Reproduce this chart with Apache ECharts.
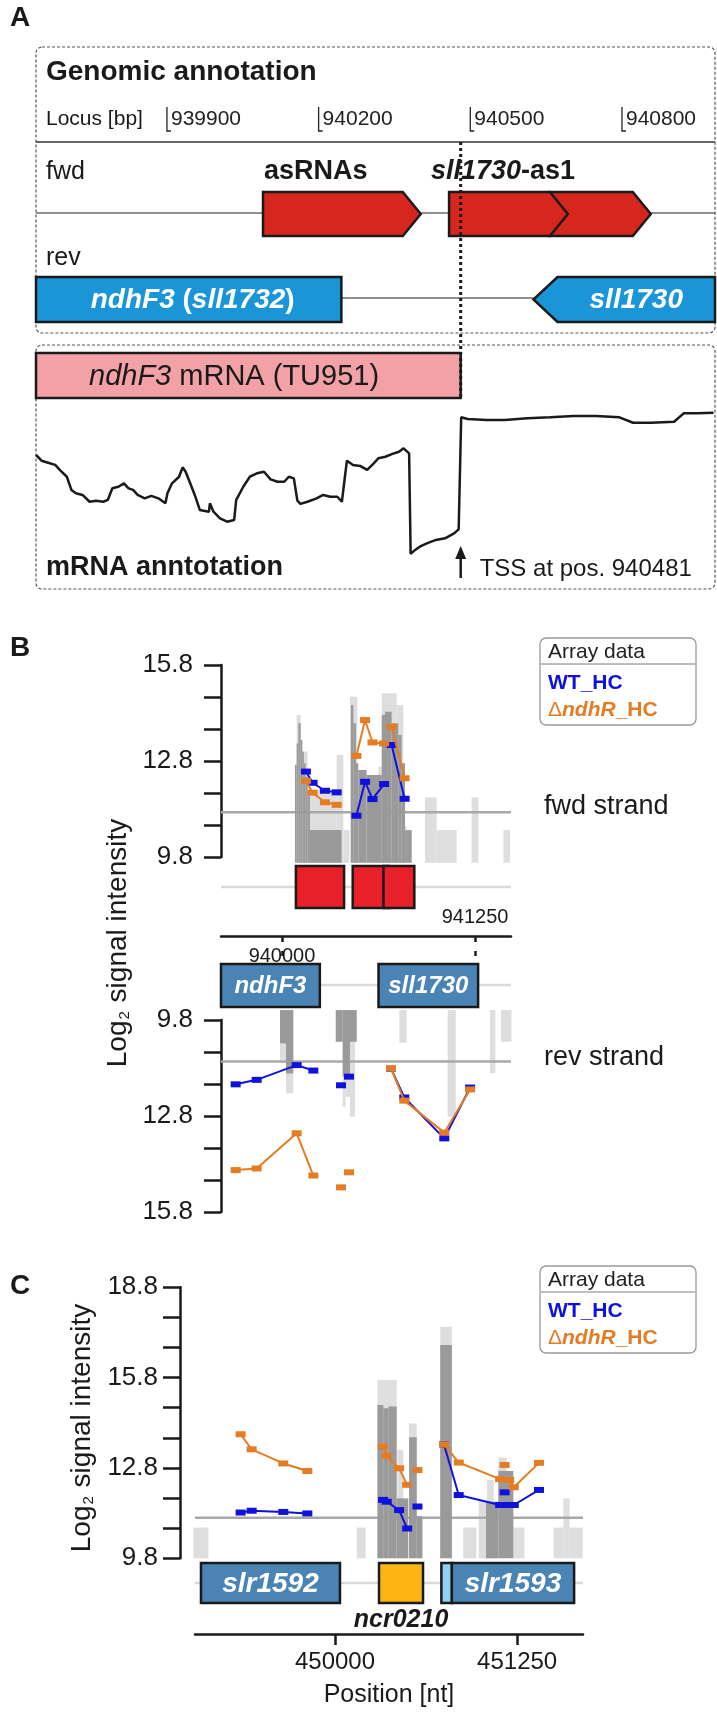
<!DOCTYPE html>
<html>
<head>
<meta charset="utf-8">
<script src="https://cdn.jsdelivr.net/npm/echarts@6/dist/echarts.min.js"></script>
<style>
  html, body { margin: 0; padding: 0; background: #fff; }
  #main { width: 717px; height: 1714px; }
</style>
</head>
<body>
<div id="main"></div>
<script>
// ---------- panel A : genomic annotation ----------
var locusTicks = [939900, 940200, 940500, 940800];
var asRnas = [[940090, 940402], [940458, 940693], [940657, 940857]];   // fwd: asRNAs, sll1730-as1 (2 parts)
var revGenes = [[939000, 940245], [940625, 941270]];                   // rev: ndhF3 (sll1732), sll1730
var tssPos = 940481;
var tu951 = [939000, 940481];                                         // ndhF3 mRNA
var mrnaPos = [939641, 939652, 939665, 939679, 939688, 939702, 939711, 939720, 939733, 939747,
  939760, 939774, 939783, 939792, 939804, 939815, 939824, 939833, 939842, 939856,
  939869, 939883, 939897, 939901, 939910, 939924, 939931, 939937, 939946, 939955,
  939965, 939983, 939985, 939992, 940005, 940019, 940033, 940037, 940051, 940064,
  940078, 940092, 940105, 940119, 940132, 940141, 940151, 940158, 940164, 940178,
  940196, 940209, 940223, 940237, 940246, 940252, 940256, 940268, 940282, 940296,
  940309, 940318, 940332, 940346, 940359, 940368, 940379, 940382, 940391, 940400,
  940414, 940432, 940450, 940468, 940477, 940482, 940495, 940532, 940568, 940613,
  940658, 940704, 940749, 940795, 940822, 940858, 940903, 940922, 940949, 940981];
var mrnaSignal = [13.42, 13.13, 13.03, 12.92, 12.67, 12.33, 11.67, 11.5, 11.42, 11.08,
  11.13, 11.08, 11.17, 11.75, 11.83, 12.0, 11.75, 11.67, 11.42, 11.25,
  11.37, 11.25, 11.0, 11.5, 12.0, 12.33, 12.8, 12.58, 12.0, 11.42,
  10.67, 10.58, 11.0, 10.58, 10.25, 10.08, 10.17, 11.17, 11.83, 12.33,
  12.5, 12.58, 12.2, 12.08, 12.08, 12.33, 12.25, 11.13, 10.97, 11.08,
  11.25, 11.42, 11.33, 11.33, 11.08, 12.33, 13.13, 12.92, 12.87, 12.67,
  13.0, 13.25, 13.33, 13.47, 13.58, 13.75, 13.5, 8.47, 8.67, 8.83,
  9.0, 9.17, 9.25, 9.5, 9.7, 15.3, 15.22, 15.17, 15.17, 15.25,
  15.3, 15.37, 15.37, 15.3, 15.03, 15.03, 15.08, 15.5, 15.5, 15.53];

// ---------- panel B : ndhF3 / sll1730 region ----------
var bAxisTicks = [940000, 941250];
var bYTicks = [9.8, 10.8, 11.8, 12.8, 13.8, 14.8, 15.8];
var bYLabels = [9.8, 12.8, 15.8];
var bFwdThreshold = 11.2;
var bRevThreshold = 11.1;
// [start, end, log2 signal]
var bFwdDark = [[940084, 940095, 12.68], [940095, 940106, 13.35], [940106, 940121, 13.98], [940121, 940132, 13.46],
  [940132, 940142, 13.09], [940142, 940153, 12.73], [940153, 940166, 12.31], [940166, 940181, 11.89], [940181, 940386, 10.64],
  [940447, 940462, 14.55], [940462, 940479, 13.98], [940479, 940494, 12.73], [940494, 940548, 12.52], [940548, 940646, 12.36],
  [940646, 940667, 14.24], [940667, 940710, 14.34], [940710, 940753, 13.98], [940753, 940775, 13.61], [940775, 940797, 12.73],
  [940797, 940840, 10.64]];
var bFwdLight = [[940095, 940121, 14.24], [940121, 940166, 13.1], [940166, 940354, 11.89], [940354, 940397, 12.99],
  [940397, 940436, 10.64], [940440, 940488, 14.81], [940624, 940646, 12.62], [940646, 940743, 14.92], [940743, 940786, 14.55],
  [940786, 940807, 10.75], [940926, 941002, 11.66], [941002, 941131, 10.64], [941228, 941272, 11.66], [941434, 941477, 10.64]];
var bRevDark = [[939987, 940026, 10.53], [940026, 940073, 11.47], [940348, 940393, 10.48], [940393, 940440, 11.57], [940440, 940484, 10.48]];
var bRevLight = [[939987, 940026, 11.15], [940026, 940073, 12.09], [940393, 940412, 12.51], [940412, 940440, 12.2],
  [940440, 940473, 12.82], [940760, 940807, 10.51], [941073, 941125, 12.82], [941347, 941382, 11.46], [941418, 941486, 10.48]];
var bFwdProbePos = [940155, 940198, 940278, 940354, 940482, 940538, 940586, 940661, 940710, 940794];
var bFwdGroup = [0, 0, 0, 0, 1, 1, 1, 1, 2, 2];
var bFwdWT = [12.47, 12.12, 11.87, 11.82, 11.09, 12.15, 11.61, 12.08, 13.30, 11.62];
var bFwdNdhR = [12.18, 11.81, 11.51, 11.43, 12.96, 14.08, 13.38, 13.35, 13.87, 12.26];
var bRevProbePos = [939700, 939836, 940095, 940203, 940382, 940434, 940706, 940792, 941051, 941218];
var bRevGroup = [0, 0, 0, 0, 1, 2, 3, 3, 3, 3];
var bRevWT = [11.81, 11.67, 11.21, 11.38, 11.84, 11.57, 11.32, 12.22, 13.50, 11.91];
var bRevNdhR = [14.49, 14.44, 13.34, 14.66, 15.03, 14.56, 11.31, 12.32, 13.32, 11.97];

// ---------- panel C : slr1592 / ncr0210 / slr1593 ----------
var cAxisTicks = [450000, 451250];
var cYTicks = [9.8, 10.8, 11.8, 12.8, 13.8, 14.8, 15.8, 16.8, 17.8, 18.8];
var cYLabels = [9.8, 12.8, 15.8, 18.8];
var cThreshold = 11.15;
var cGenes = [[449080, 450034], [450302, 450604], [450730, 450802], [450802, 451641]];
var cGeneNames = ['slr1592', 'ncr0210', '', 'slr1593'];
var cDark = [[450291, 450332, 14.89], [450332, 450366, 14.78], [450366, 450423, 14.84], [450423, 450503, 11.79],
  [450508, 450561, 13.82], [450561, 450600, 11.2], [450722, 450802, 16.88], [451036, 451121, 11.68], [451121, 451224, 12.7]];
var cLight = [[449028, 449131, 10.82], [450149, 450210, 10.82], [450291, 450423, 15.72], [450428, 450469, 13.40],
  [450508, 450561, 14.28], [450722, 450802, 17.49], [450880, 450970, 10.82], [450986, 451036, 11.7], [451043, 451089, 12.4],
  [451121, 451178, 13.15], [451224, 451300, 10.82], [451500, 451567, 10.82], [451567, 451610, 11.79], [451610, 451700, 10.82]];
var cProbePos = [449352, 449428, 449645, 449810, 450330, 450355, 450440, 450495, 450566,
  450748, 450849, 451133, 451195, 451227, 451400, 451164];
var cProbeGroup = [0, 0, 0, 0, 1, 1, 1, 1, 2, 3, 3, 3, 3, 3, 3, 4];
var cWT = [11.32, 11.38, 11.34, 11.29, 11.74, 11.68, 11.40, 10.79, 11.52, 13.58, 11.90, 11.57, 11.57, 11.57, 12.07, 11.99];
var cNdhR = [13.92, 13.42, 12.95, 12.70, 13.51, 13.20, 12.79, 12.24, 12.73, 13.58, 12.98, 12.43, 12.40, 12.16, 12.97, 12.90];

// axis windows
var A_MIN = 939641, A_MAX = 940984;
var B_MIN = 939605, B_MAX = 941483;
var C_MIN = 449039, C_MAX = 451702;

var FAM = '"Liberation Sans", Arial, Helvetica, sans-serif';
function fnt(size, weight, style) {
  return (style || 'normal') + ' ' + (weight || 'normal') + ' ' + size + 'px ' + FAM;
}
var INK = '#1a1a1a';
var BLUE = '#1111dd', ORANGE = '#e67c22';
var DARK = '#9a9a9a', LIGHT = '#dedede';
function plain(v) { return String(v); }

// ---------- render helpers ----------
function clampX(x, cs) { return Math.max(cs.x, Math.min(cs.x + cs.width, x)); }

function fwdArrowA(params, api) {
  var x0 = api.coord([api.value(0), 0])[0];
  var x1 = api.coord([api.value(1), 0])[0];
  var top = 192, bot = 236, mid = 214, tip = 18;
  return {
    type: 'polygon', z2: 10 - params.dataIndex,
    shape: { points: [[x0, top], [x1 - tip, top], [x1, mid], [x1 - tip, bot], [x0, bot]] },
    style: { fill: '#d7261e', stroke: INK, lineWidth: 2.5 }
  };
}

var revNamesA = ['{i|ndhF3 }{n|(}{i|sll1732}{n|)}', '{i|sll1730}'];
function revArrowA(params, api) {
  var cs = params.coordSys;
  var L = cs.x, R = cs.x + cs.width;
  var x0 = api.coord([api.value(0), 0])[0];
  var x1 = Math.min(api.coord([api.value(1), 0])[0], R);
  var top = 277, bot = 322, mid = 299.5, tip = 24, pts, cx;
  if (x0 < L) {
    pts = [[L, top], [x1, top], [x1, bot], [L, bot]];
    cx = (L + x1) / 2 + 4;
  } else {
    pts = [[x0, mid], [x0 + tip, top], [x1, top], [x1, bot], [x0 + tip, bot]];
    cx = (x0 + tip + x1) / 2;
  }
  return {
    type: 'group', children: [
      { type: 'polygon', shape: { points: pts }, style: { fill: '#1a96d8', stroke: INK, lineWidth: 2.5 } },
      { type: 'text', style: {
        text: revNamesA[params.dataIndex], x: cx, y: mid + 1, align: 'center', verticalAlign: 'middle',
        rich: {
          i: { font: fnt(28, 'bold', 'italic'), fill: '#fff' },
          n: { font: fnt(28, 'bold'), fill: '#fff' }
        }
      } }
    ]
  };
}

function locusTickItem(params, api) {
  var x = api.coord([api.value(0), 0])[0];
  return {
    type: 'group', children: [
      { type: 'polyline', shape: { points: [[x, 107], [x, 131], [x + 4, 131]] }, style: { stroke: '#222', lineWidth: 1.3, fill: null } },
      { type: 'text', style: { text: String(api.value(0)), x: x + 4, y: 119, align: 'left', verticalAlign: 'middle', font: fnt(21), fill: '#222' } }
    ]
  };
}

function tu951Item(params, api) {
  var cs = params.coordSys;
  var x0 = clampX(api.coord([api.value(0), 0])[0], cs);
  var x1 = api.coord([api.value(1), 0])[0];
  return {
    type: 'group', children: [
      { type: 'rect', shape: { x: x0, y: 353, width: x1 - x0, height: 45 }, style: { fill: '#f2a1a7', stroke: INK, lineWidth: 2.5 } },
      { type: 'text', style: {
        text: '{i|ndhF3} mRNA (TU951)', x: x0 + 53, y: 377, align: 'left', verticalAlign: 'middle',
        font: fnt(29), fill: INK, rich: { i: { font: fnt(29, 'normal', 'italic'), fill: INK } }
      } }
    ]
  };
}

function tssItem(params, api) {
  var x = api.coord([api.value(0), 0])[0];
  return {
    type: 'group', children: [
      { type: 'line', shape: { x1: x, y1: 142, x2: x, y2: 398 }, style: { stroke: INK, lineWidth: 3, lineDash: [3, 3] } },
      { type: 'line', shape: { x1: x, y1: 578, x2: x, y2: 556 }, style: { stroke: INK, lineWidth: 2.5 } },
      { type: 'polygon', shape: { points: [[x - 5.5, 559], [x, 546], [x + 5.5, 559]] }, style: { fill: INK } },
      { type: 'text', style: { text: 'TSS at pos. ' + api.value(0), x: x + 19, y: 569, align: 'left', verticalAlign: 'middle', font: fnt(24), fill: INK } }
    ]
  };
}

function barRenderer(base, color) {
  return function (params, api) {
    var p0 = api.coord([api.value(0), api.value(2)]);
    var p1 = api.coord([api.value(1), base]);
    return {
      type: 'rect',
      shape: { x: p0[0], y: Math.min(p0[1], p1[1]), width: p1[0] - p0[0], height: Math.abs(p1[1] - p0[1]) },
      style: { fill: color }
    };
  };
}

function geneBoxRenderer(names, fills, fontSize) {
  return function (params, api) {
    var cs = params.coordSys;
    var x0 = clampX(api.coord([api.value(0), 0])[0], cs);
    var x1 = clampX(api.coord([api.value(1), 0])[0], cs);
    var i = params.dataIndex;
    var name = names ? names[i] : '';
    var kids = [{ type: 'rect', shape: { x: x0, y: cs.y, width: x1 - x0, height: cs.height }, style: { fill: fills[i], stroke: INK, lineWidth: 2.5 } }];
    if (name && name.indexOf('ncr') === 0) {
      kids.push({ type: 'text', style: { text: name, x: (x0 + x1) / 2, y: cs.y + cs.height + 17, align: 'center', verticalAlign: 'middle', font: fnt(25, 'bold', 'italic'), fill: INK } });
    } else if (name) {
      kids.push({ type: 'text', style: { text: name, x: (x0 + x1) / 2, y: cs.y + cs.height / 2 + 1, align: 'center', verticalAlign: 'middle', font: fnt(fontSize, 'bold', 'italic'), fill: '#fff' } });
    }
    return { type: 'group', children: kids };
  };
}

function probeLine(pos, grp, vals) {
  var out = [];
  for (var i = 0; i < pos.length; i++) {
    if (i > 0 && grp[i] !== grp[i - 1]) out.push([pos[i], null]);
    out.push([pos[i], vals[i]]);
  }
  return out;
}

function lineSeries(grid, data, color, z) {
  return {
    type: 'line', xAxisIndex: grid, yAxisIndex: grid, data: data, z: z, silent: true,
    connectNulls: false, showAllSymbol: true, symbol: 'rect', symbolSize: [10, 6],
    itemStyle: { color: color }, lineStyle: { color: color, width: 2 }
  };
}
function barSeries(grid, data, base, color, z) {
  return { type: 'custom', xAxisIndex: grid, yAxisIndex: grid, data: data, z: z, silent: true,
    encode: { x: [0, 1], y: 2 }, renderItem: barRenderer(base, color) };
}
function thresholdSeries(grid, min, max, thr) {
  return { type: 'line', xAxisIndex: grid, yAxisIndex: grid, data: [[min, thr], [max, thr]], z: 2, silent: true,
    symbol: 'none', lineStyle: { color: '#a8a8a8', width: 2.5 } };
}

function hiddenX(grid, min, max) { return { type: 'value', gridIndex: grid, min: min, max: max, show: false }; }
function hiddenY(grid, min, max) { return { type: 'value', gridIndex: grid, min: min, max: max, show: false }; }
function signalY(grid, min, max, ticks, labels, inverse, margin, offset) {
  return {
    type: 'value', gridIndex: grid, min: min, max: max, inverse: inverse, offset: offset || 0,
    splitLine: { show: false },
    axisLine: { show: true, lineStyle: { color: INK, width: 2.5 } },
    axisTick: { show: true, customValues: ticks, length: 17, lineStyle: { color: INK, width: 2.5 } },
    axisLabel: { customValues: labels, margin: margin, fontSize: 26, color: INK, fontFamily: FAM,
      formatter: function (v) { return v.toFixed(1); } }
  };
}

var grids = [
  { left: 36, top: 47, width: 679, height: 286 },      // 0 A annotation
  { left: 36, top: 403.33, width: 679, height: 160 },  // 1 A signal
  { left: 221, top: 665, width: 290, height: 192 },    // 2 B fwd
  { left: 221, top: 866, width: 290, height: 42 },     // 3 B fwd genes
  { left: 221, top: 916, width: 290, height: 20 },     // 4 B axis (ticks down)
  { left: 221, top: 964, width: 290, height: 43 },     // 5 B rev genes
  { left: 221, top: 1020, width: 290, height: 192 },   // 6 B rev
  { left: 195, top: 1287.3, width: 388, height: 271 }, // 7 C
  { left: 195, top: 1563, width: 388, height: 40 },    // 8 C genes
  { left: 195, top: 1614, width: 388, height: 20 },    // 9 C axis
  { left: 221, top: 936, width: 290, height: 20 }      // 10 B axis (ticks up)
].map(function (g) { g.outerBoundsMode = 'none'; g.containLabel = false; return g; });

var xAxes = [
  hiddenX(0, A_MIN, A_MAX), hiddenX(1, A_MIN, A_MAX),
  hiddenX(2, B_MIN, B_MAX), hiddenX(3, B_MIN, B_MAX),
  { type: 'value', gridIndex: 4, min: B_MIN, max: B_MAX, position: 'bottom', splitLine: { show: false },
    axisLine: { lineStyle: { color: INK, width: 2.5 } },
    axisTick: { customValues: bAxisTicks, length: 6, lineStyle: { color: INK, width: 2.5 } },
    axisLabel: { customValues: [940000], fontSize: 20, margin: 10, color: INK, fontFamily: FAM, formatter: plain } },
  hiddenX(5, B_MIN, B_MAX), hiddenX(6, B_MIN, B_MAX),
  hiddenX(7, C_MIN, C_MAX), hiddenX(8, C_MIN, C_MAX),
  { type: 'value', gridIndex: 9, min: C_MIN, max: C_MAX, position: 'bottom', splitLine: { show: false },
    axisLine: { lineStyle: { color: INK, width: 2.5 } },
    axisTick: { customValues: cAxisTicks, length: 11, lineStyle: { color: INK, width: 2.5 } },
    axisLabel: { customValues: cAxisTicks, fontSize: 24, margin: 16, color: INK, fontFamily: FAM, formatter: plain },
    name: 'Position [nt]', nameLocation: 'middle', nameGap: 49,
    nameTextStyle: { fontSize: 25, color: INK, fontFamily: FAM } },
  { type: 'value', gridIndex: 10, min: B_MIN, max: B_MAX, position: 'top', splitLine: { show: false },
    axisLine: { show: false },
    axisTick: { customValues: bAxisTicks, length: 5, lineStyle: { color: INK, width: 2.5 } },
    axisLabel: { customValues: [941250], fontSize: 20, margin: 9, color: INK, fontFamily: FAM, formatter: plain } }
];

var yAxes = [
  hiddenY(0, 0, 1), hiddenY(1, 8, 16),
  signalY(2, 9.8, 15.8, bYTicks, bYLabels, false, 28),
  hiddenY(3, 0, 1), hiddenY(4, 0, 1), hiddenY(5, 0, 1),
  signalY(6, 9.8, 15.8, bYTicks, bYLabels, true, 28),
  signalY(7, 9.8, 18.8, cYTicks, cYLabels, false, 22, 15),
  hiddenY(8, 0, 1), hiddenY(9, 0, 1), hiddenY(10, 0, 1)
];

var series = [
  // panel A
  { type: 'custom', xAxisIndex: 0, yAxisIndex: 0, data: asRnas, encode: { x: [0, 1] }, renderItem: fwdArrowA, z: 3, silent: true },
  { type: 'custom', xAxisIndex: 0, yAxisIndex: 0, data: revGenes, encode: { x: [0, 1] }, renderItem: revArrowA, z: 3, silent: true },
  { type: 'custom', xAxisIndex: 0, yAxisIndex: 0, data: locusTicks.map(function (v) { return [v]; }), encode: { x: 0 }, renderItem: locusTickItem, z: 3, silent: true },
  { type: 'custom', xAxisIndex: 1, yAxisIndex: 1, data: [tu951], encode: { x: [0, 1] }, renderItem: tu951Item, z: 3, silent: true },
  { type: 'line', xAxisIndex: 1, yAxisIndex: 1, data: mrnaPos.map(function (p, i) { return [p, mrnaSignal[i]]; }),
    symbol: 'none', lineStyle: { color: INK, width: 2.5 }, z: 4, silent: true },
  { type: 'custom', xAxisIndex: 0, yAxisIndex: 0, data: [[tssPos]], encode: { x: 0 }, renderItem: tssItem, z: 6, silent: true },

  // panel B fwd
  barSeries(2, bFwdLight, 9.62, LIGHT, 1),
  thresholdSeries(2, B_MIN, B_MAX, bFwdThreshold),
  barSeries(2, bFwdDark, 9.62, DARK, 3),
  lineSeries(2, probeLine(bFwdProbePos, bFwdGroup, bFwdWT), BLUE, 4),
  lineSeries(2, probeLine(bFwdProbePos, bFwdGroup, bFwdNdhR), ORANGE, 5),
  { type: 'custom', xAxisIndex: 3, yAxisIndex: 3, data: asRnas, encode: { x: [0, 1] }, z: 3, silent: true,
    renderItem: geneBoxRenderer(null, ['#e8202a', '#e8202a', '#e8202a'], 24) },
  // panel B rev
  { type: 'custom', xAxisIndex: 5, yAxisIndex: 5, data: revGenes, encode: { x: [0, 1] }, z: 3, silent: true,
    renderItem: geneBoxRenderer(['ndhF3', 'sll1730'], ['#4a84b5', '#4a84b5'], 24) },
  barSeries(6, bRevLight, 9.49, LIGHT, 1),
  thresholdSeries(6, B_MIN, B_MAX, bRevThreshold),
  barSeries(6, bRevDark, 9.49, DARK, 3),
  lineSeries(6, probeLine(bRevProbePos, bRevGroup, bRevWT), BLUE, 4),
  lineSeries(6, probeLine(bRevProbePos, bRevGroup, bRevNdhR), ORANGE, 5),

  // panel C
  barSeries(7, cLight, 9.8, LIGHT, 1),
  thresholdSeries(7, C_MIN, C_MAX, cThreshold),
  barSeries(7, cDark, 9.8, DARK, 3),
  lineSeries(7, probeLine(cProbePos, cProbeGroup, cWT), BLUE, 4),
  lineSeries(7, probeLine(cProbePos, cProbeGroup, cNdhR), ORANGE, 5),
  { type: 'custom', xAxisIndex: 8, yAxisIndex: 8, data: cGenes, encode: { x: [0, 1] }, z: 3, silent: true,
    renderItem: geneBoxRenderer(cGeneNames, ['#4a84b5', '#fdb515', '#8fd0f5', '#4a84b5'], 28) }
];

// ---------- static decoration ----------
function txt(x, y, text, font, fill, extra) {
  var el = { type: 'text', x: x, y: y, silent: true, style: { text: text, font: font, fill: fill || INK, align: 'left', verticalAlign: 'middle' } };
  if (extra) { for (var k in extra) el.style[k] = extra[k]; }
  return el;
}
function hline(x1, x2, y, color, w) {
  return { type: 'line', silent: true, shape: { x1: x1, y1: y, x2: x2, y2: y }, style: { stroke: color, lineWidth: w } };
}
function dashedBox(x, y, w, h) {
  return { type: 'rect', silent: true, shape: { x: x, y: y, width: w, height: h, r: 6 }, style: { fill: null, stroke: '#555', lineWidth: 1.2, lineDash: [3, 2] } };
}
function legend(top) {
  return [
    { type: 'rect', silent: true, shape: { x: 540, y: top, width: 156, height: 87, r: 6 }, style: { fill: '#fff', stroke: '#9a9a9a', lineWidth: 1.3 } },
    txt(548, top + 14, 'Array data', fnt(21), '#222'),
    hline(541, 695, top + 26, '#aaaaaa', 1.5),
    txt(548, top + 45, 'WT_HC', fnt(21, 'bold'), BLUE),
    txt(548, top + 72, '{d|\u0394}{bi|ndhR}{b|_HC}', fnt(21, 'bold'), ORANGE, {
      rich: { d: { font: fnt(21), fill: ORANGE }, bi: { font: fnt(21, 'bold', 'italic'), fill: ORANGE }, b: { font: fnt(21, 'bold'), fill: ORANGE } }
    })
  ];
}
function yName(x, y) {
  return { type: 'text', x: x, y: y, rotation: Math.PI / 2, silent: true,
    style: { text: 'Log{s|2} signal intensity', font: fnt(28), fill: INK, align: 'center', verticalAlign: 'middle',
      rich: { s: { font: fnt(15), fill: INK, verticalAlign: 'bottom', padding: [0, 1, 0, 1] } } } };
}

var elements = [
  txt(10, 18, 'A', fnt(28, 'bold')),
  dashedBox(36, 47, 679, 286),
  txt(46, 72, 'Genomic annotation', fnt(28, 'bold')),
  txt(46, 119, 'Locus [bp]', fnt(21)),
  hline(36, 715, 142, '#333', 1.5),
  txt(46, 172, 'fwd', fnt(25)),
  hline(36, 715, 213, '#222', 1.2),
  txt(264, 172, 'asRNAs', fnt(27, 'bold')),
  txt(431, 172, '{i|sll1730}{b|-as1}', fnt(27, 'bold'), INK, {
    rich: { i: { font: fnt(27, 'bold', 'italic'), fill: INK }, b: { font: fnt(27, 'bold'), fill: INK } }
  }),
  txt(46, 258, 'rev', fnt(25)),
  hline(36, 715, 298, '#222', 1.2),
  dashedBox(36, 345, 679, 244),
  txt(46, 568, 'mRNA anntotation', fnt(27, 'bold')),

  txt(10, 648, 'B', fnt(28, 'bold')),
  txt(544, 807, 'fwd strand', fnt(27)),
  txt(544, 1058, 'rev strand', fnt(27)),
  hline(221, 511, 887, '#dadada', 2.5),
  hline(221, 511, 985, '#dadada', 2.5),
  yName(118, 943),

  txt(10, 1286, 'C', fnt(28, 'bold')),
  hline(195, 583, 1583, '#dadada', 2.5),
  yName(82, 1428)
].concat(legend(638), legend(1266));

var chart = echarts.init(document.getElementById('main'), null, { renderer: 'canvas' });
chart.setOption({
  animation: false,
  backgroundColor: '#fff',
  grid: grids,
  xAxis: xAxes,
  yAxis: yAxes,
  series: series,
  graphic: { elements: elements }
});
</script>
</body>
</html>
